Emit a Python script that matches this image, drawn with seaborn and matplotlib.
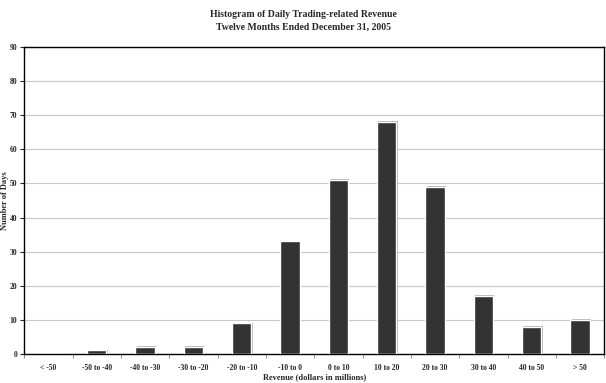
import numpy as np
import pandas as pd
import matplotlib
matplotlib.use("Agg")
import matplotlib.pyplot as plt
import matplotlib.patheffects as pe
from matplotlib.ticker import FixedLocator
import seaborn as sns

# ── Data ──────────────────────────────────────────────────────────────────────
bins = ["< -50", "-50 to -40", "-40 to -30", "-30 to -20", "-20 to -10",
        "-10 to 0", "0 to 10", "10 to 20", "20 to 30", "30 to 40",
        "40 to 50", "> 50"]
days = [0, 1, 2, 2, 9, 33, 51, 68, 49, 17, 8, 10]

df = pd.DataFrame({"bin": bins, "days": days})

# ── Style ─────────────────────────────────────────────────────────────────────
sns.set_style("white")
plt.rcParams["font.family"] = ["Liberation Serif", "DejaVu Serif"]
plt.rcParams["font.weight"] = "bold"

fig = plt.figure(figsize=(6.06, 3.83), dpi=100)
ax = fig.add_axes([0.040, 0.076, 0.957, 0.801])

sns.barplot(data=df, x="bin", y="days", color="#333333", width=0.4,
            saturation=1, ax=ax, zorder=3)
for p in ax.patches:
    p.set_path_effects([pe.SimplePatchShadow(offset=(1.0, 0.5), shadow_rgbFace="#b0b0b0", alpha=1),
                        pe.Normal()])

ax.set_ylim(0, 90)
ax.set_xlim(-0.5, len(bins) - 0.5)
ax.set_yticks(range(0, 91, 10))
ax.yaxis.grid(True, color="#c8c8c8", linewidth=0.8, zorder=0)
ax.set_axisbelow(True)

ax.tick_params(axis="y", which="major", direction="out", length=3, width=0.8,
               labelsize=5.5, pad=2, left=True)
ax.tick_params(axis="x", which="major", length=0, labelsize=5.5, pad=7)
ax.xaxis.set_minor_locator(FixedLocator(np.arange(-0.5, len(bins), 1.0)))
ax.tick_params(axis="x", which="minor", direction="out", length=3, width=0.6,
               color="#777777", bottom=True)

for s in ax.spines.values():
    s.set_visible(True)
    s.set_color("black")
    s.set_linewidth(1.0)

ax.set_xlabel("Revenue (dollars in millions)", fontsize=6, fontweight="bold")
ax.xaxis.set_label_coords(0.5, -0.062)
ax.set_ylabel("Number of Days", fontsize=6, fontweight="bold")
ax.yaxis.set_label_coords(-0.026, 0.5)

fig.text(0.5, 0.975, "Histogram of Daily Trading-related Revenue",
         ha="center", va="top", fontsize=7, fontweight="bold")
fig.text(0.5, 0.94, "Twelve Months Ended December 31, 2005",
         ha="center", va="top", fontsize=7, fontweight="bold")

fig.savefig("out.png", dpi=100)
